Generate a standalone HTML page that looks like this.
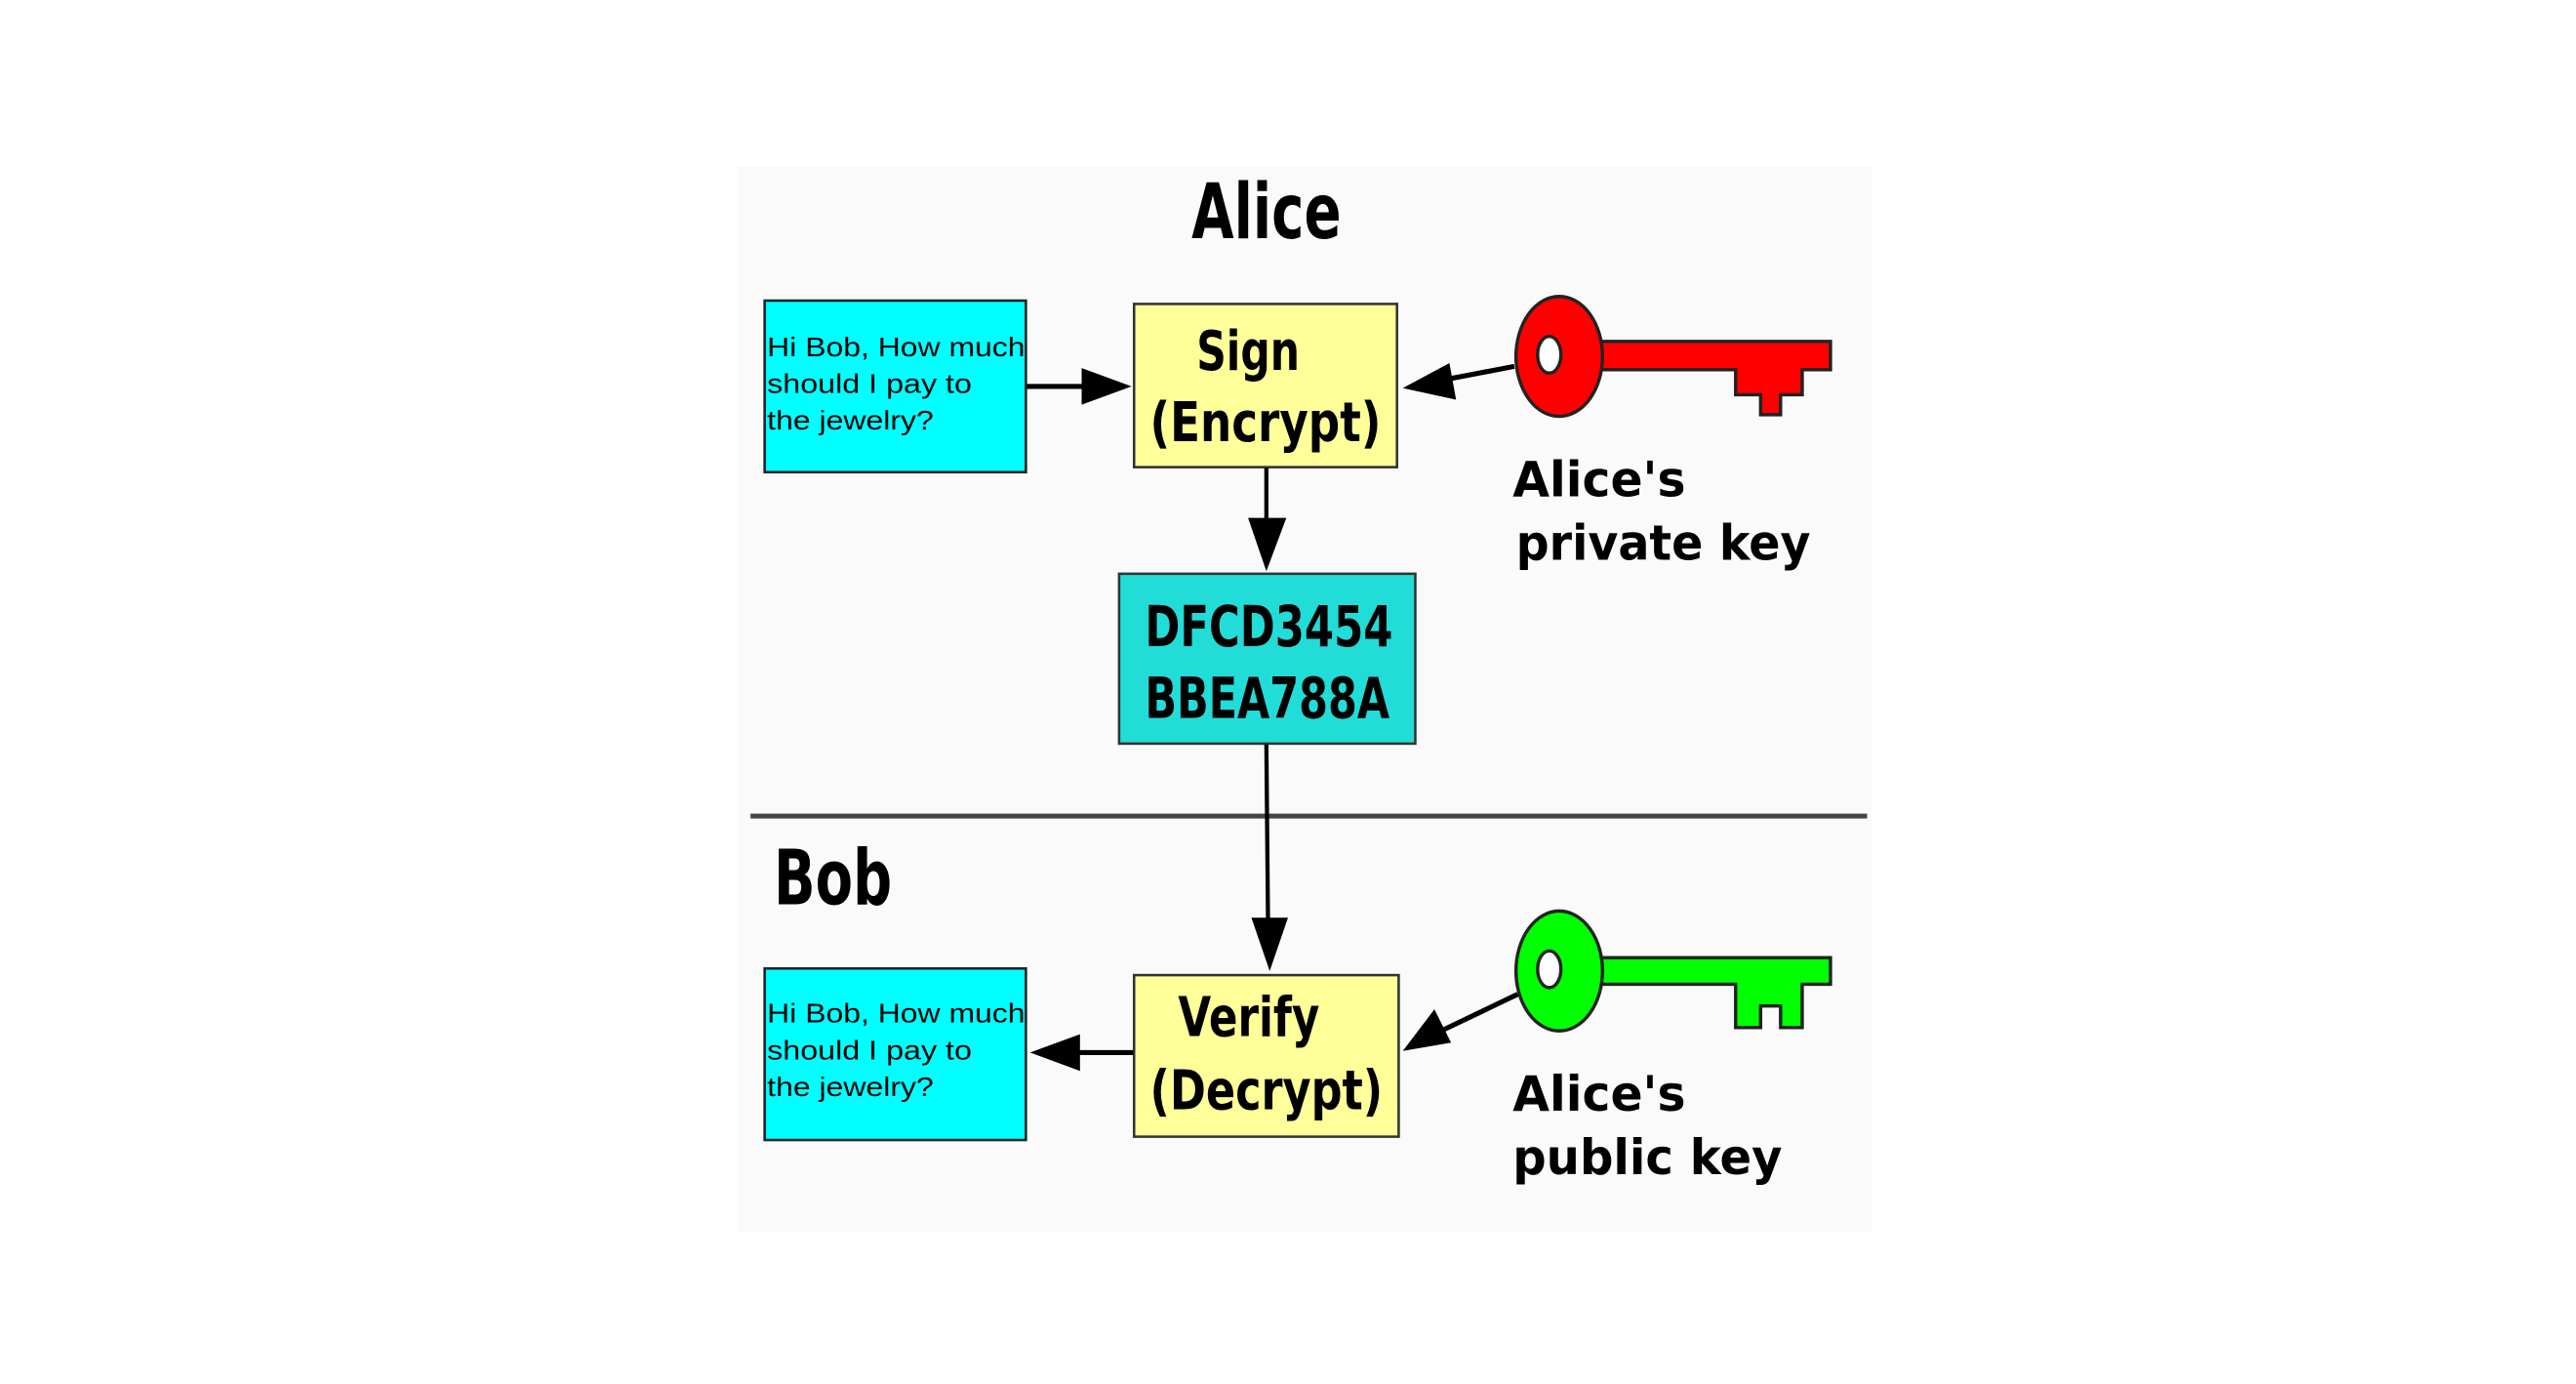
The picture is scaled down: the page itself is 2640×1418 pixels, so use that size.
<!DOCTYPE html>
<html><head><meta charset="utf-8"><style>
html,body{margin:0;padding:0;background:#fff;}
svg{display:block;}
text{font-family:"DejaVu Sans","Liberation Sans",sans-serif;font-weight:bold;fill:#000;}
.m{font-family:"Liberation Sans","DejaVu Sans",sans-serif;font-weight:normal;font-size:16px;}
</style></head><body>
<svg width="2640" height="1418" viewBox="0 0 1548 831" preserveAspectRatio="none" xmlns="http://www.w3.org/2000/svg">
<defs>
<marker id="ah" markerWidth="10" markerHeight="10" refX="9" refY="5" orient="auto" markerUnits="userSpaceOnUse" viewBox="0 0 10 10">
</marker>
</defs>
<rect x="443" y="100" width="682" height="640" fill="#fafafa"/>
<text x="716" y="143" font-size="46" textLength="90" lengthAdjust="spacingAndGlyphs">Alice</text>
<text x="465" y="543" font-size="46" textLength="71" lengthAdjust="spacingAndGlyphs">Bob</text>
<line x1="451" y1="490" x2="1122" y2="490" stroke="#444" stroke-width="3"/>

<!-- top message -->
<rect x="459.5" y="180.5" width="157" height="103" fill="#00ffff" stroke="#222" stroke-width="1.5"/>
<text class="m" x="461" y="214" textLength="155" lengthAdjust="spacingAndGlyphs">Hi Bob, How much</text>
<text class="m" x="461" y="236" textLength="123" lengthAdjust="spacingAndGlyphs">should I pay to</text>
<text class="m" x="461" y="258" textLength="100" lengthAdjust="spacingAndGlyphs">the jewelry?</text>

<!-- sign box -->
<rect x="681.5" y="182.5" width="158" height="98" fill="#ffff99" stroke="#333" stroke-width="1.5"/>
<text x="719" y="222" font-size="33" textLength="62" lengthAdjust="spacingAndGlyphs">Sign</text>
<text x="691" y="265" font-size="33" textLength="139" lengthAdjust="spacingAndGlyphs">(Encrypt)</text>

<!-- arrows top -->
<line x1="617" y1="232" x2="655" y2="232" stroke="#000" stroke-width="3"/>
<polygon points="680,232 650,221 650,243" fill="#000"/>
<line x1="910" y1="220" x2="868" y2="228" stroke="#000" stroke-width="3"/>
<polygon points="843,233 871,218 875,240" fill="#000"/>
<line x1="761" y1="281" x2="761" y2="315" stroke="#000" stroke-width="2.5"/>
<polygon points="761,343 750,311 773,311" fill="#000"/>

<!-- red key -->
<path d="M958,205 H1100 V222 H1083 V237 H1070 V249 H1058 V237 H1043 V222 H958 Z" fill="#ff0000" stroke="#222" stroke-width="2"/>
<ellipse cx="937" cy="214" rx="26" ry="36" fill="#ff0000" stroke="#222" stroke-width="2"/>
<ellipse cx="931" cy="213" rx="7" ry="11" fill="#fff" stroke="#222" stroke-width="2"/>

<text x="909" y="298" font-size="29" textLength="104" lengthAdjust="spacingAndGlyphs">Alice's</text>
<text x="911" y="336" font-size="29" textLength="177" lengthAdjust="spacingAndGlyphs">private key</text>

<!-- DFCD box -->
<rect x="672.5" y="344.5" width="178" height="102" fill="#22dcd8" stroke="#333" stroke-width="1.5"/>
<text x="688" y="388" font-size="34" textLength="149" lengthAdjust="spacingAndGlyphs">DFCD3454</text>
<text x="688" y="431" font-size="34" textLength="147" lengthAdjust="spacingAndGlyphs">BBEA788A</text>

<line x1="761" y1="447" x2="762" y2="555" stroke="#000" stroke-width="2.5"/>
<polygon points="763,583 752,551 774,551" fill="#000"/>

<!-- bottom message -->
<rect x="459.5" y="581.5" width="157" height="103" fill="#00ffff" stroke="#222" stroke-width="1.5"/>
<text class="m" x="461" y="614" textLength="155" lengthAdjust="spacingAndGlyphs">Hi Bob, How much</text>
<text class="m" x="461" y="636" textLength="123" lengthAdjust="spacingAndGlyphs">should I pay to</text>
<text class="m" x="461" y="658" textLength="100" lengthAdjust="spacingAndGlyphs">the jewelry?</text>

<!-- verify box -->
<rect x="681.5" y="585.5" width="159" height="97" fill="#ffff99" stroke="#333" stroke-width="1.5"/>
<text x="708" y="622" font-size="33" textLength="85" lengthAdjust="spacingAndGlyphs">Verify</text>
<text x="691" y="666" font-size="33" textLength="140" lengthAdjust="spacingAndGlyphs">(Decrypt)</text>

<line x1="681" y1="632" x2="645" y2="632" stroke="#000" stroke-width="3"/>
<polygon points="619,632 649,621 649,643" fill="#000"/>
<line x1="912" y1="597" x2="866" y2="619" stroke="#000" stroke-width="3"/>
<polygon points="843,631 862,606 872,626" fill="#000"/>

<!-- green key -->
<path d="M958,575 H1100 V591 H1083 V617 H1070 V604 H1058 V617 H1043 V591 H958 Z" fill="#00ff00" stroke="#222" stroke-width="2"/>
<ellipse cx="937" cy="583" rx="26" ry="36" fill="#00ff00" stroke="#222" stroke-width="2"/>
<ellipse cx="931" cy="582" rx="7" ry="11" fill="#fff" stroke="#222" stroke-width="2"/>

<text x="909" y="667" font-size="29" textLength="104" lengthAdjust="spacingAndGlyphs">Alice's</text>
<text x="909" y="705" font-size="29" textLength="162" lengthAdjust="spacingAndGlyphs">public key</text>
</svg>
</body></html>
